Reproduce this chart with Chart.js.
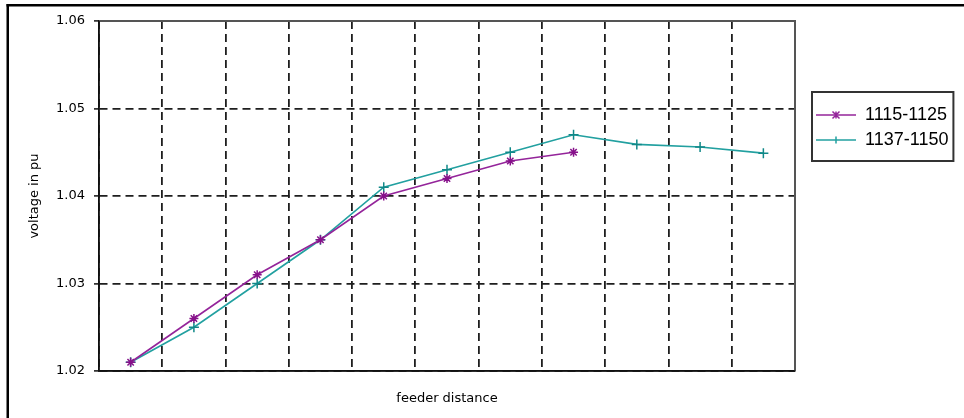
<!DOCTYPE html>
<html>
<head>
<meta charset="utf-8">
<title>voltage profile</title>
<script src="https://cdn.jsdelivr.net/npm/chart.js@4/dist/chart.umd.min.js"></script>
<style>
  html, body { margin: 0; padding: 0; background: #fff; }
  #chart { display: block; }
</style>
</head>
<body>
<canvas id="chart" width="964" height="418"></canvas>
<script>
// feeder positions (no labels shown on the axis)
const categories = ['1', '2', '3', '4', '5', '6', '7', '8', '9', '10', '11'];

const series1Name = '1115-1125';
const series1 = [1.021, 1.026, 1.031, 1.035, 1.040, 1.042, 1.044, 1.045, null, null, null];

const series2Name = '1137-1150';
const series2 = [1.021, 1.025, 1.030, 1.035, 1.041, 1.043, 1.045, 1.047, 1.0459, 1.0456, 1.0449];

const yTicks = [1.02, 1.03, 1.04, 1.05, 1.06];

const PURPLE = '#94249a';
const TEAL = '#22a0a0';
const GRID = '#1e1e1e';
const AXIS_FONT = { family: '"DejaVu Sans", sans-serif', size: 13 };

// small canvas: line with marker, used as the legend symbol
function legendSample(color, style) {
    const c = document.createElement('canvas');
    c.width = 40;
    c.height = 12;
    const g = c.getContext('2d');
    g.strokeStyle = color;
    g.lineWidth = 1.5;
    g.beginPath();
    g.moveTo(0, 6);
    g.lineTo(40, 6);
    g.stroke();
    const r = 3.5;
    g.beginPath();
    if (style === 'star') {
        g.moveTo(20 - r, 6 - r); g.lineTo(20 + r, 6 + r);
        g.moveTo(20 - r, 6 + r); g.lineTo(20 + r, 6 - r);
        g.moveTo(20, 6 - r); g.lineTo(20, 6 + r);
    } else {
        g.moveTo(20, 6 - r); g.lineTo(20, 6 + r);
    }
    g.stroke();
    return c;
}
const samples = [legendSample(PURPLE, 'star'), legendSample(TEAL, 'cross')];

const LEGEND_W = 169;

const framePlugin = {
    id: 'framePlugin',
    beforeLayout(chart) {
        const lg = chart.legend;
        if (lg && !lg._fixedWidth) {
            const fit = lg.fit.bind(lg);
            lg.fit = function () { fit(); this.width = LEGEND_W; };
            lg._fixedWidth = true;
        }
    },
    afterLayout(chart) {
        const lg = chart.legend;
        lg.left += 14;
        lg.top = 99;
    },
    beforeDraw(chart) {
        const ctx = chart.ctx;
        ctx.save();
        ctx.fillStyle = '#fff';
        ctx.fillRect(0, 0, chart.width, chart.height);
        // outer chart frame (cut off at right and bottom)
        ctx.fillStyle = '#000';
        ctx.fillRect(6.5, 4, chart.width, 2.5);
        ctx.fillRect(6.5, 4, 2.5, chart.height);
        ctx.restore();
    },
    beforeDatasetsDraw(chart) {
        const { ctx, chartArea: a } = chart;
        ctx.save();
        ctx.strokeStyle = '#555';
        ctx.lineWidth = 2;
        ctx.beginPath();
        ctx.moveTo(a.left, a.top);
        ctx.lineTo(a.right, a.top);
        ctx.lineTo(a.right, a.bottom);
        ctx.stroke();
        ctx.strokeStyle = '#111';
        ctx.lineWidth = 1.5;
        ctx.beginPath();
        ctx.moveTo(a.left, a.top);
        ctx.lineTo(a.left, a.bottom);
        ctx.lineTo(a.right, a.bottom);
        ctx.stroke();
        ctx.restore();
    },
    afterDraw(chart) {
        const hb = chart.legend.legendHitBoxes;
        if (!hb || !hb.length) return;
        const left = hb[0].left - 4;
        const top = hb[0].top - 14;
        const right = Math.max(...hb.map(h => h.left + h.width)) + 5;
        const last = hb[hb.length - 1];
        const bottom = last.top + last.height + 12;
        const ctx = chart.ctx;
        ctx.save();
        ctx.strokeStyle = '#333';
        ctx.lineWidth = 2;
        ctx.strokeRect(left, top, right - left, bottom - top);
        ctx.restore();
    }
};

new Chart(document.getElementById('chart'), {
    type: 'line',
    data: {
        labels: categories,
        datasets: [{
            label: series1Name,
            data: series1,
            borderColor: PURPLE,
            backgroundColor: PURPLE,
            borderWidth: 1.6,
            pointStyle: 'star',
            pointRadius: 4.5,
            pointBorderWidth: 1.5,
            pointBorderColor: '#86108a',
            tension: 0,
            spanGaps: false
        }, {
            label: series2Name,
            data: series2,
            borderColor: TEAL,
            backgroundColor: TEAL,
            borderWidth: 1.6,
            pointStyle: 'cross',
            pointRadius: 5,
            pointBorderWidth: 1.5,
            pointBorderColor: '#108888',
            tension: 0
        }]
    },
    options: {
        responsive: false,
        animation: false,
        devicePixelRatio: 1,
        layout: { padding: { left: 0, top: 21, right: 0, bottom: 0 } },
        plugins: {
            tooltip: { enabled: false },
            legend: {
                position: 'right',
                align: 'start',
                labels: {
                    usePointStyle: true,
                    pointStyleWidth: 40,
                    boxHeight: 12,
                    padding: 7,
                    color: '#000',
                    font: { family: '"Liberation Sans", Arial, sans-serif', size: 18 },
                    generateLabels: chart => chart.data.datasets.map((ds, i) => ({
                        text: ds.label,
                        pointStyle: samples[i],
                        fillStyle: ds.borderColor,
                        strokeStyle: ds.borderColor,
                        lineWidth: 0,
                        hidden: false,
                        datasetIndex: i,
                        fontColor: '#000'
                    }))
                }
            }
        },
        scales: {
            x: {
                type: 'category',
                offset: true,
                afterFit: s => { s.height = 47; },
                grid: {
                    offset: true,
                    color: GRID,
                    lineWidth: 1.8,
                    drawTicks: false,
                    borderDash: [8, 5]
                },
                border: { display: true, color: '#111', width: 1.5, dash: [8, 5] },
                ticks: { display: false },
                title: {
                    display: true,
                    text: 'feeder distance',
                    color: '#000',
                    font: AXIS_FONT,
                    padding: { top: 0, bottom: 12 }
                }
            },
            y: {
                min: 1.02,
                max: 1.06,
                afterFit: s => { s.width = 99; },
                afterBuildTicks: s => { s.ticks = yTicks.map(v => ({ value: v })); },
                grid: {
                    color: GRID,
                    lineWidth: 1.8,
                    drawTicks: true,
                    tickLength: 5,
                    tickColor: '#111',
                    tickWidth: 1.5,
                    tickBorderDash: [],
                    borderDash: [8, 5]
                },
                border: { display: true, color: '#111', width: 1.5, dash: [8, 5] },
                ticks: {
                    color: '#000',
                    font: AXIS_FONT,
                    padding: 9,
                    callback: v => Number(v).toFixed(2)
                },
                title: {
                    display: true,
                    text: 'voltage in pu',
                    color: '#000',
                    font: AXIS_FONT,
                    padding: { top: 27, bottom: 0 }
                }
            }
        }
    },
    plugins: [framePlugin]
});
</script>
</body>
</html>
